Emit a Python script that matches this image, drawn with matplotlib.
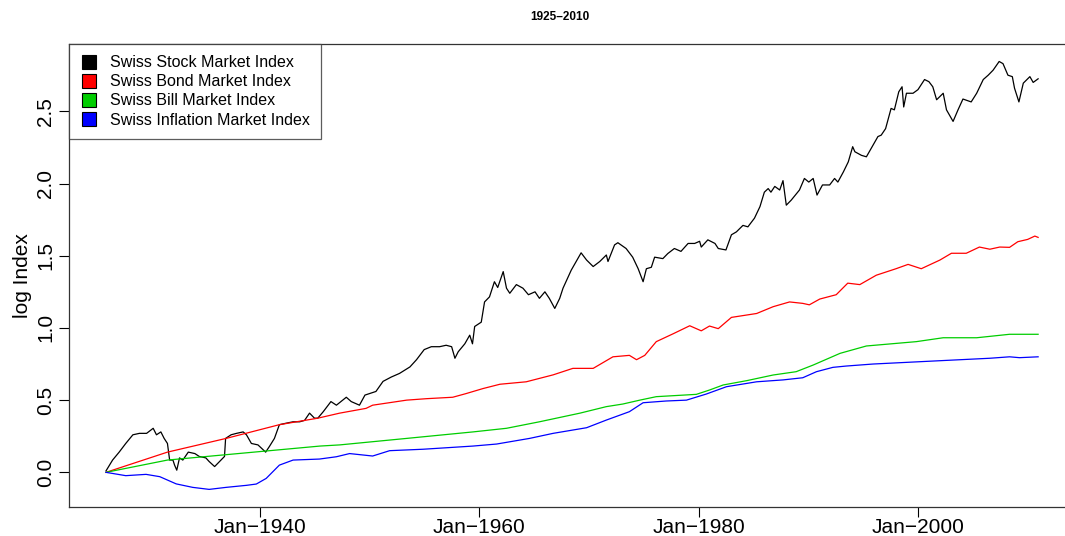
import matplotlib
matplotlib.use("Agg")
import matplotlib.pyplot as plt
from matplotlib.lines import Line2D

plt.rcParams['font.family'] = ['Liberation Sans', 'DejaVu Sans']

# log index values (year, value)
stock_years = [1926.0, 1926.6, 1927.2, 1927.8, 1928.45, 1929.05, 1929.7, 1930.3, 1930.6, 1931.0,
               1931.3, 1931.6, 1931.8, 1932.1, 1932.25, 1932.45, 1932.7, 1933.0, 1933.5, 1934.1,
               1934.5, 1935.1, 1935.4, 1935.9, 1936.35, 1936.8, 1936.9, 1937.4, 1937.9, 1938.5,
               1938.8, 1939.25, 1939.85, 1940.55, 1940.9, 1941.35, 1941.8, 1942.4, 1943.05, 1943.65,
               1944.1, 1944.55, 1945.0, 1945.3, 1945.8, 1946.5, 1947.0, 1947.9, 1948.35, 1949.1,
               1949.6, 1950.6, 1951.25, 1952.0, 1952.75, 1953.7, 1954.3, 1955.0, 1955.65, 1956.4,
               1957.0, 1957.5, 1957.8, 1958.1, 1958.7, 1959.15, 1959.4, 1959.6, 1960.2, 1960.5,
               1960.95, 1961.4, 1961.7, 1962.2, 1962.5, 1962.8, 1963.4, 1964.0, 1964.5, 1965.1,
               1965.5, 1966.0, 1966.4, 1966.9, 1967.35, 1967.65, 1968.4, 1969.3, 1969.8, 1970.4,
               1971.0, 1971.6, 1971.75, 1972.35, 1972.65, 1973.4, 1974.0, 1974.5, 1974.95, 1975.25,
               1975.7, 1976.0, 1976.75, 1977.2, 1977.8, 1978.4, 1979.05, 1979.65, 1980.1, 1980.25,
               1980.85, 1981.5, 1981.8, 1982.5, 1983.0, 1983.45, 1984.05, 1984.5, 1985.1, 1985.6,
               1986.0, 1986.35, 1986.6, 1986.95, 1987.4, 1987.7, 1988.0, 1988.45, 1989.2, 1989.65,
               1990.05, 1990.45, 1990.8, 1991.3, 1991.95, 1992.4, 1992.7, 1993.2, 1993.65, 1994.05,
               1994.25, 1994.85, 1995.3, 1995.75, 1996.35, 1996.65, 1997.05, 1997.55, 1997.85, 1998.25,
               1998.55, 1998.7, 1998.95, 1999.55, 2000.0, 2000.6, 2001.0, 2001.35, 2001.7, 2002.3,
               2002.6, 2003.2, 2003.65, 2004.1, 2004.85, 2005.35, 2005.95, 2006.4, 2006.85, 2007.4,
               2007.75, 2008.2, 2008.6, 2008.8, 2009.2, 2009.6, 2010.2, 2010.5, 2010.95]
stock_vals = [0.01, 0.085, 0.14, 0.20, 0.26, 0.27, 0.27, 0.305, 0.26, 0.28,
              0.235, 0.20, 0.085, 0.085, 0.05, 0.015, 0.10, 0.085, 0.14, 0.13,
              0.11, 0.10, 0.075, 0.04, 0.075, 0.11, 0.235, 0.26, 0.27, 0.28,
              0.26, 0.20, 0.19, 0.14, 0.18, 0.235, 0.33, 0.34, 0.35, 0.35,
              0.36, 0.41, 0.375, 0.375, 0.42, 0.49, 0.465, 0.52, 0.49, 0.465,
              0.535, 0.56, 0.63, 0.66, 0.685, 0.73, 0.78, 0.85, 0.87, 0.87,
              0.88, 0.87, 0.79, 0.835, 0.89, 0.95, 0.89, 1.01, 1.04, 1.18,
              1.215, 1.32, 1.28, 1.39, 1.275, 1.24, 1.30, 1.275, 1.23, 1.25,
              1.205, 1.25, 1.205, 1.135, 1.205, 1.275, 1.40, 1.52, 1.47, 1.425,
              1.46, 1.505, 1.46, 1.575, 1.59, 1.55, 1.49, 1.41, 1.32, 1.41,
              1.42, 1.49, 1.48, 1.515, 1.55, 1.53, 1.585, 1.585, 1.60, 1.56,
              1.61, 1.585, 1.55, 1.54, 1.645, 1.665, 1.71, 1.70, 1.76, 1.84,
              1.94, 1.965, 1.94, 1.98, 1.955, 2.02, 1.85, 1.885, 1.955, 2.035,
              2.01, 2.035, 1.92, 1.99, 1.99, 2.035, 2.01, 2.08, 2.15, 2.255,
              2.22, 2.195, 2.185, 2.245, 2.325, 2.335, 2.38, 2.52, 2.51, 2.635,
              2.67, 2.53, 2.625, 2.625, 2.65, 2.72, 2.705, 2.67, 2.58, 2.625,
              2.51, 2.43, 2.51, 2.585, 2.565, 2.625, 2.72, 2.75, 2.785, 2.845,
              2.83, 2.75, 2.74, 2.66, 2.565, 2.695, 2.74, 2.70, 2.725]

bond_years = [1926.0, 1931.6, 1936.95, 1941.8, 1945.3, 1947.3, 1949.7, 1950.3, 1953.4, 1955.2,
              1957.6, 1958.8, 1960.35, 1961.9, 1964.3, 1966.75, 1968.55, 1970.4, 1972.2, 1973.7,
              1974.35, 1975.1, 1976.15, 1977.7, 1979.2, 1980.25, 1981.0, 1981.8, 1983.0, 1985.3,
              1986.8, 1988.3, 1989.5, 1990.1, 1991.05, 1992.55, 1993.6, 1994.7, 1996.2, 1998.0,
              1999.1, 2000.3, 2002.0, 2003.05, 2004.4, 2005.6, 2006.55, 2007.45, 2008.35, 2009.1,
              2010.0, 2010.65, 2010.95]
bond_vals = [0.0, 0.14, 0.235, 0.33, 0.375, 0.41, 0.443, 0.465, 0.50, 0.51,
             0.52, 0.545, 0.58, 0.61, 0.627, 0.675, 0.72, 0.72, 0.80, 0.81,
             0.78, 0.81, 0.905, 0.96, 1.015, 0.98, 1.013, 0.995, 1.073, 1.10,
             1.147, 1.18, 1.17, 1.16, 1.20, 1.23, 1.31, 1.30, 1.365, 1.41,
             1.44, 1.41, 1.47, 1.517, 1.517, 1.56, 1.545, 1.56, 1.558, 1.597,
             1.613, 1.636, 1.627]

bill_years = [1926.0, 1931.6, 1945.5, 1947.3, 1953.4, 1959.45, 1962.5, 1965.5, 1969.2, 1971.6,
              1973.1, 1974.65, 1976.15, 1979.8, 1981.0, 1982.25, 1984.4, 1986.8, 1988.9, 1990.45,
              1992.9, 1995.3, 1999.85, 2002.3, 2005.35, 2008.35, 2010.95]
bill_vals = [0.0, 0.085, 0.182, 0.19, 0.235, 0.28, 0.305, 0.35, 0.41, 0.455,
             0.473, 0.50, 0.524, 0.54, 0.57, 0.605, 0.635, 0.674, 0.697, 0.743,
             0.824, 0.875, 0.905, 0.932, 0.932, 0.956, 0.956]

infl_years = [1926.0, 1927.8, 1929.65, 1930.9, 1932.4, 1933.9, 1935.4, 1936.95, 1938.8, 1939.7,
              1940.6, 1941.8, 1943.05, 1945.45, 1947.0, 1948.2, 1950.3, 1951.85, 1954.9, 1959.45,
              1961.6, 1964.6, 1966.75, 1969.8, 1971.6, 1973.7, 1974.95, 1977.05, 1978.9, 1980.7,
              1982.55, 1985.3, 1987.7, 1989.5, 1990.75, 1992.25, 1993.45, 1995.9, 2002.0, 2006.55,
              2008.35, 2009.25, 2010.95]
infl_vals = [0.0, -0.023, -0.014, -0.03, -0.08, -0.104, -0.118, -0.104, -0.09, -0.081,
             -0.042, 0.05, 0.085, 0.092, 0.108, 0.13, 0.113, 0.15, 0.16, 0.182,
             0.196, 0.235, 0.27, 0.309, 0.362, 0.42, 0.482, 0.494, 0.50, 0.542,
             0.593, 0.627, 0.64, 0.655, 0.697, 0.727, 0.736, 0.75, 0.773, 0.79,
             0.80, 0.794, 0.80]

names = ["Swiss Stock Market Index", "Swiss Bond Market Index",
         "Swiss Bill Market Index", "Swiss Inflation Market Index"]
colors = ["black", "#FF0000", "#00CD00", "#0000FF"]
tick_years = [1940, 1960, 1980, 2000]
tick_labels = ["Jan\u22121940", "Jan\u22121960", "Jan\u22121980", "Jan\u22122000"]

fig = plt.figure(figsize=(10.65, 5.36), dpi=100)
ax = fig.add_axes([0.0645, 0.0541, 0.9458, 0.8638])

series = [(stock_years, stock_vals), (bond_years, bond_vals),
          (bill_years, bill_vals), (infl_years, infl_vals)]
for (xs, ys), c in zip(series, colors):
    ax.plot(xs, ys, color=c, lw=0.9)

ax.set_xlim(1922.6, 2014.4)
ax.set_ylim(-0.24, 2.966)
ax.set_xticks(tick_years)
ax.set_xticklabels(tick_labels)
ax.set_yticks([0.0, 0.5, 1.0, 1.5, 2.0, 2.5])
ax.set_yticklabels(["0.0", "0.5", "1.0", "1.5", "2.0", "2.5"], rotation=90, va="center")
ax.tick_params(axis="both", length=7, width=0.8, labelsize=15, direction="out")
ax.tick_params(axis="y", pad=2.5)
ax.tick_params(axis="x", pad=1)
for s in ax.spines.values():
    s.set_linewidth(0.9)
    s.set_color("#333333")

ax.set_ylabel("log Index", fontsize=15, labelpad=3)
fig.text(0.526, 0.968, "1925\u20132010", ha="center", va="center", fontsize=8.5, fontweight="bold")

handles = [Line2D([], [], marker="s", linestyle="none", markersize=9.4,
                  markerfacecolor=c, markeredgecolor="black", markeredgewidth=0.8)
           for c in colors]
leg = ax.legend(handles, names, loc="upper left", bbox_to_anchor=(0, 1), borderaxespad=0,
                fontsize=11.5, frameon=True, fancybox=False, handlelength=1.16,
                handletextpad=0.7, labelspacing=0.26, borderpad=0.7)
leg.get_frame().set_edgecolor("#333333")
leg.get_frame().set_linewidth(0.9)

fig.savefig("out.png", dpi=100)
